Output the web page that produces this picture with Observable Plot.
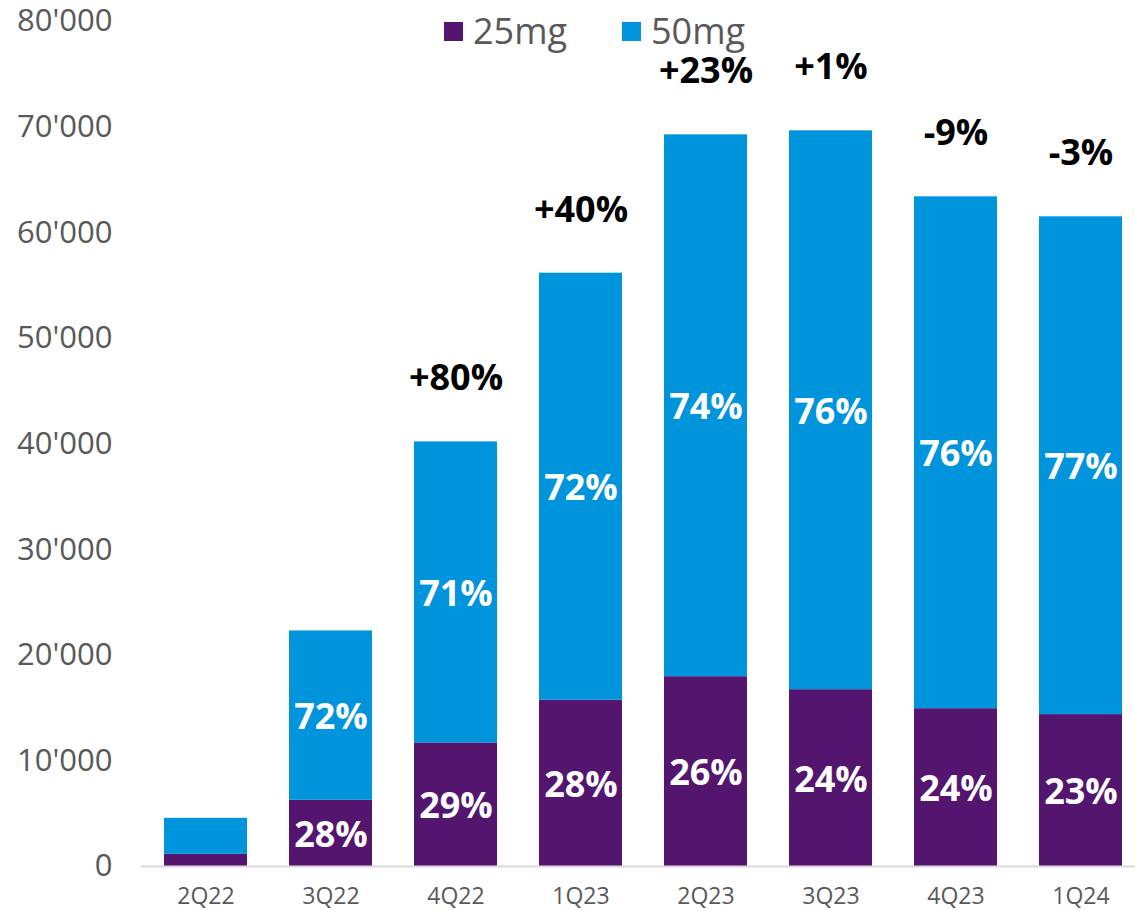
<!DOCTYPE html>
<html>
<head>
<meta charset="utf-8">
<script src="https://cdn.jsdelivr.net/npm/d3@7"></script>
<script src="https://cdn.jsdelivr.net/npm/@observablehq/plot@0.6"></script>
<style>
  html, body { margin: 0; padding: 0; background: #fff; }
  #wrap { position: relative; width: 1135px; height: 911px; font-family: "Open Sans", sans-serif; }
  #legend { position: absolute; top: 0; left: 0; width: 1135px; height: 60px; pointer-events: none; }
  .item { position: absolute; top: 11px; display: flex; align-items: center; font-size: 36px; color: #595959; line-height: 40px; }
  .sw { width: 19px; height: 19px; margin-right: 10px; }
</style>
</head>
<body>
<div id="wrap"><div id="legend"></div></div>
<script>
const quarters = ["2Q22", "3Q22", "4Q22", "1Q23", "2Q23", "3Q23", "4Q23", "1Q24"];
const mg25 = [1150, 6270, 11700, 15740, 17970, 16740, 14940, 14380];
const mg50 = [3410, 16030, 28500, 40430, 51300, 52910, 48460, 47130];
const share25 = ["", "28%", "29%", "28%", "26%", "24%", "24%", "23%"];
const share50 = ["", "72%", "71%", "72%", "74%", "76%", "76%", "77%"];
const growth = ["", "", "+80%", "+40%", "+23%", "+1%", "-9%", "-3%"];
const doses = ["25mg", "50mg"];
const colors = ["#54156F", "#0094DC"];
const yTicks = [0, 10000, 20000, 30000, 40000, 50000, 60000, 70000, 80000];

const rows = [];
quarters.forEach((q, i) => {
  rows.push({quarter: q, dose: "25mg", value: mg25[i], mid: mg25[i] / 2, label: share25[i]});
  rows.push({quarter: q, dose: "50mg", value: mg50[i], mid: mg25[i] + mg50[i] / 2, label: share50[i]});
});
const totals = quarters.map((q, i) => ({quarter: q, total: mg25[i] + mg50[i], label: growth[i]}));

const fmt = d => d3.format(",")(d).replace(/,/g, "'");

const chart = Plot.plot({
  width: 1135,
  height: 911,
  marginLeft: 141,
  marginRight: 0,
  marginTop: 21,
  marginBottom: 45,
  style: {fontFamily: "'Open Sans', sans-serif", background: "#fff", overflow: "visible"},
  x: {domain: quarters, range: [141, 1146], paddingInner: 0.333, paddingOuter: 0.167, label: null},
  y: {domain: [0, 80000], label: null},
  color: {domain: doses, range: colors},
  marks: [
    Plot.barY(rows, {x: "quarter", y: "value", fill: "dose"}),
    Plot.ruleY([0], {stroke: "#D9D9D9", strokeWidth: 2}),
    Plot.text(rows, {x: "quarter", y: "mid", text: "label", fill: "white", fontSize: 36, fontWeight: "bold", dy: 2}),
    Plot.text(totals, {x: "quarter", y: "total", text: "label", fill: "black", fontSize: 36, fontWeight: "bold", dy: -63}),
    Plot.axisY(yTicks, {tickSize: 0, tickPadding: 29, tickFormat: fmt, fontSize: 31, fill: "#595959", label: null}),
    Plot.axisX({tickSize: 0, tickPadding: 21, fontSize: 23, fill: "#595959", label: null})
  ]
});
document.getElementById("wrap").appendChild(chart);

const legend = document.getElementById("legend");
const legendX = [444, 622];
doses.forEach((d, i) => {
  const it = document.createElement("div");
  it.className = "item";
  it.style.left = legendX[i] + "px";
  it.innerHTML = `<span class="sw" style="background:${colors[i]}"></span><span>${d}</span>`;
  legend.appendChild(it);
});
</script>
</body>
</html>
